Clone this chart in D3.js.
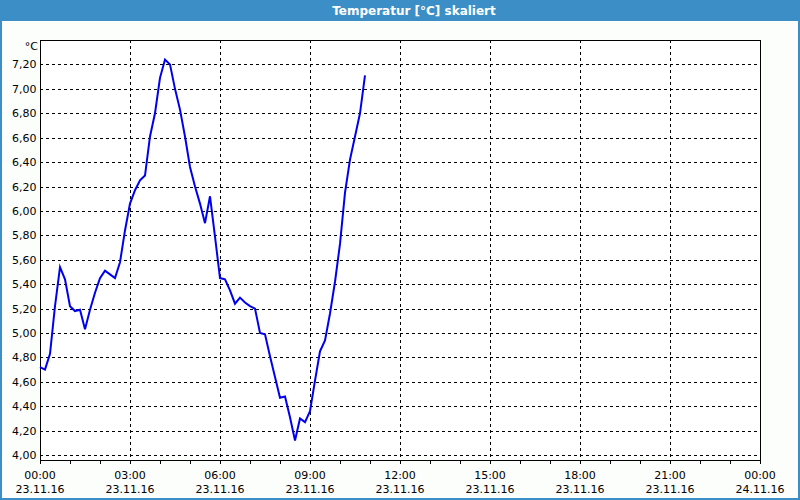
<!DOCTYPE html>
<html>
<head>
<meta charset="utf-8">
<script src="https://cdn.jsdelivr.net/npm/d3@7"></script>
<style>
  html, body { margin: 0; padding: 0; background: #fff; }
  svg { display: block; }
  text { font-family: "DejaVu Sans", Verdana, sans-serif; }
</style>
</head>
<body>
<svg id="chart" width="800" height="500"></svg>
<script>
// temperature readings, one every 10 minutes from 23.11.16 00:00
const startTime = new Date(2016, 10, 23, 0, 0);
const stepMinutes = 10;
const temps = [
  4.72, 4.70, 4.83, 5.22, 5.54, 5.44, 5.22, 5.18, 5.19, 5.03,
  5.19, 5.33, 5.45, 5.51, 5.48, 5.45, 5.58, 5.84, 6.06, 6.17,
  6.25, 6.29, 6.61, 6.80, 7.09, 7.24, 7.20, 7.00, 6.83, 6.61,
  6.36, 6.20, 6.06, 5.90, 6.12, 5.79, 5.45, 5.44, 5.35, 5.24,
  5.29, 5.25, 5.22, 5.20, 5.00, 4.99, 4.81, 4.64, 4.47, 4.48,
  4.31, 4.12, 4.30, 4.27, 4.36, 4.61, 4.85, 4.94, 5.16, 5.42,
  5.73, 6.15, 6.42, 6.61, 6.80, 7.11
];
const yTicks = [4.0, 4.2, 4.4, 4.6, 4.8, 5.0, 5.2, 5.4, 5.6, 5.8, 6.0, 6.2, 6.4, 6.6, 6.8, 7.0, 7.2];
const xTickHours = [0, 3, 6, 9, 12, 15, 18, 21, 24];
const title = "Temperatur [°C] skaliert";
const unit = "°C";

const W = 800, H = 500;
const m = { left: 40, right: 760, top: 40, bottom: 460 };
const blue = "#3c8fc6";
const font = "'DejaVu Sans Condensed', 'DejaVu Sans', sans-serif";

const svg = d3.select("#chart");

const data = temps.map((v, i) => ({
  t: d3.timeMinute.offset(startTime, i * stepMinutes),
  v: v
}));

const x = d3.scaleTime()
  .domain([startTime, d3.timeHour.offset(startTime, 24)])
  .range([m.left, m.right]);
const y = d3.scaleLinear()
  .domain([3.96, 7.40])
  .range([m.bottom, m.top]);

// frame + title bar
svg.append("rect").attr("width", W).attr("height", H).attr("fill", "#fcfefc");
svg.append("rect").attr("x", 1).attr("y", 1).attr("width", W - 2).attr("height", H - 2)
  .attr("fill", "none").attr("stroke", blue).attr("stroke-width", 2);
svg.append("rect").attr("width", W).attr("height", 21).attr("fill", blue);
svg.append("text")
  .attr("x", 414).attr("y", 15)
  .attr("text-anchor", "middle")
  .attr("fill", "#fff")
  .attr("font-family", font)
  .attr("font-weight", "bold")
  .attr("font-size", 12)
  .text(title);

// plot area
svg.append("rect")
  .attr("x", m.left).attr("y", m.top)
  .attr("width", m.right - m.left).attr("height", m.bottom - m.top)
  .attr("fill", "#fff");

const grid = svg.append("g")
  .attr("stroke", "#000")
  .attr("stroke-width", 1)
  .attr("stroke-dasharray", "3,3")
  .attr("shape-rendering", "crispEdges");

grid.selectAll(".hg").data(yTicks).enter().append("line")
  .attr("x1", m.left).attr("x2", m.right)
  .attr("y1", d => Math.round(y(d)) + 0.5)
  .attr("y2", d => Math.round(y(d)) + 0.5);

grid.selectAll(".vg").data(xTickHours.slice(1, -1)).enter().append("line")
  .attr("y1", m.top).attr("y2", m.bottom)
  .attr("x1", d => Math.round(x(d3.timeHour.offset(startTime, d))) + 0.5)
  .attr("x2", d => Math.round(x(d3.timeHour.offset(startTime, d))) + 0.5);

// axes
const fmtNum = v => v.toFixed(2).replace(".", ",");
const yAxis = svg.append("g")
  .attr("transform", `translate(${m.left + 0.5},0)`)
  .call(d3.axisLeft(y).tickValues(yTicks).tickSize(0).tickPadding(4).tickFormat(fmtNum));
yAxis.select(".domain").remove();
yAxis.selectAll("text").attr("font-size", 11).attr("fill", "#000")
  .attr("font-family", font);

const xAxis = svg.append("g")
  .attr("transform", `translate(0,${m.bottom + 0.5})`)
  .call(d3.axisBottom(x)
    .ticks(d3.timeHour.every(1))
    .tickSize(3)
    .tickFormat(() => ""));
xAxis.select(".domain").remove();
xAxis.selectAll("line").attr("shape-rendering", "crispEdges");

const fmtTime = d3.timeFormat("%H:%M");
const fmtDate = d3.timeFormat("%d.%m.%y");
const xl = svg.append("g")
  .attr("font-size", 11)
  .attr("font-family", font)
  .attr("text-anchor", "middle");
xTickHours.forEach(h => {
  const t = d3.timeHour.offset(startTime, h);
  xl.append("text").attr("x", x(t)).attr("y", 479).text(fmtTime(t));
  xl.append("text").attr("x", x(t)).attr("y", 493).text(fmtDate(t));
});

svg.append("text")
  .attr("x", m.left - 2).attr("y", 50)
  .attr("text-anchor", "end")
  .attr("font-size", 11)
  .attr("font-family", font)
  .text(unit);

// plot frame
svg.append("rect")
  .attr("x", m.left + 0.5).attr("y", m.top + 0.5)
  .attr("width", m.right - m.left).attr("height", m.bottom - m.top)
  .attr("fill", "none").attr("stroke", "#000")
  .attr("shape-rendering", "crispEdges");

// temperature line
svg.append("path")
  .datum(data)
  .attr("fill", "none")
  .attr("stroke", "#0000f0")
  .attr("stroke-width", 2)
  .attr("d", d3.line().x(d => x(d.t)).y(d => y(d.v)));
</script>
</body>
</html>
